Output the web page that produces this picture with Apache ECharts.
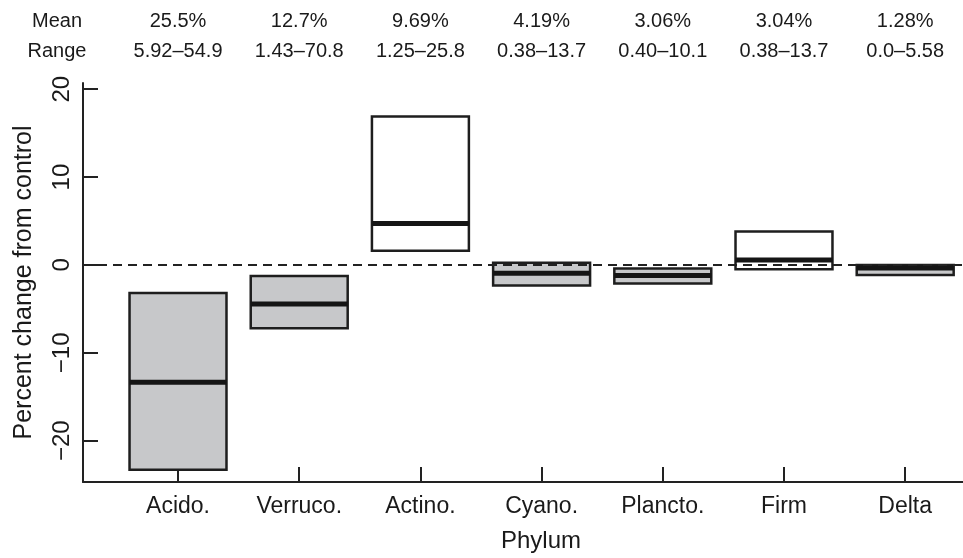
<!DOCTYPE html>
<html>
<head>
<meta charset="utf-8">
<script src="https://cdn.jsdelivr.net/npm/echarts@6/dist/echarts.min.js"></script>
<style>
html,body{margin:0;padding:0;background:#fff;}
#chart{width:963px;height:558px;}
</style>
</head>
<body>
<div id="chart"></div>
<script>
const categories = ['Acido.', 'Verruco.', 'Actino.', 'Cyano.', 'Plancto.', 'Firm', 'Delta'];
const boxLow    = [-23.3, -7.2, 1.6, -2.35, -2.1, -0.5, -1.15];
const boxMedian = [-13.35, -4.45, 4.7, -0.95, -1.2, 0.55, -0.35];
const boxHigh   = [-3.2, -1.25, 16.9, 0.25, -0.4, 3.8, 0.0];
const meanLabels  = ['25.5%', '12.7%', '9.69%', '4.19%', '3.06%', '3.04%', '1.28%'];
const rangeLabels = ['5.92\u201354.9', '1.43\u201370.8', '1.25\u201325.8', '0.38\u201313.7', '0.40\u201310.1', '0.38\u201313.7', '0.0\u20135.58'];
const yTicks = [-20, -10, 0, 10, 20];

const FONT = "'Liberation Sans', Arial, Helvetica, sans-serif";
const positions = categories.map((c, i) => i + 1);
const X_MIN = 0.216, X_MAX = 7.477;

const chart = echarts.init(document.getElementById('chart'), null, {renderer: 'canvas'});

function topAxis(labels, offset) {
  return {
    type: 'value', position: 'top', min: X_MIN, max: X_MAX, offset: offset,
    axisLine: {show: false}, axisTick: {show: false}, splitLine: {show: false},
    axisLabel: {
      customValues: positions, margin: 0, color: '#1a1a1a', fontFamily: FONT, fontSize: 20,
      formatter: v => labels[Math.round(v) - 1]
    }
  };
}

const option = {
  backgroundColor: '#ffffff',
  animation: false,
  grid: {left: 83, right: 0, top: 83, bottom: 76, outerBoundsMode: 'none'},
  xAxis: [
    {
      type: 'value', min: X_MIN, max: X_MAX, position: 'bottom',
      axisLine: {show: true, onZero: false, lineStyle: {color: '#222', width: 2}},
      axisTick: {show: true, inside: true, length: 15, customValues: positions, lineStyle: {color: '#222', width: 2}},
      splitLine: {show: false},
      axisLabel: {
        customValues: positions, margin: 13, color: '#1a1a1a', fontFamily: FONT, fontSize: 23,
        formatter: v => categories[Math.round(v) - 1]
      }
    },
    topAxis(meanLabels, 52),
    topAxis(rangeLabels, 22)
  ],
  yAxis: {
    type: 'value', min: -24.7, max: 20.7,
    name: 'Percent change from control', nameLocation: 'middle', nameGap: 46, nameRotate: 90,
    nameTextStyle: {color: '#1a1a1a', fontFamily: FONT, fontSize: 25},
    axisLine: {show: true, onZero: false, lineStyle: {color: '#222', width: 2}},
    axisTick: {show: true, inside: true, length: 15, customValues: yTicks, lineStyle: {color: '#222', width: 2}},
    splitLine: {show: false},
    axisLabel: {
      customValues: yTicks, rotate: 90, margin: 9, color: '#1a1a1a', fontFamily: FONT, fontSize: 24,
      formatter: v => (v < 0 ? '\u2212' + Math.abs(v) : String(v))
    }
  },
  graphic: [
    {type: 'text', x: 57, y: 21, style: {text: 'Mean', fill: '#1a1a1a', font: '20px ' + FONT, align: 'center', verticalAlign: 'middle'}},
    {type: 'text', x: 57, y: 51, style: {text: 'Range', fill: '#1a1a1a', font: '20px ' + FONT, align: 'center', verticalAlign: 'middle'}},
    {type: 'text', x: 541, y: 541, style: {text: 'Phylum', fill: '#1a1a1a', font: '24px ' + FONT, align: 'center', verticalAlign: 'middle'}}
  ],
  series: [
    {
      type: 'custom', xAxisIndex: 0, yAxisIndex: 0, z: 2,
      data: categories.map((c, i) => [positions[i], boxLow[i], boxMedian[i], boxHigh[i]]),
      encode: {x: 0, y: [1, 2, 3]},
      renderItem: function (params, api) {
        const x = api.value(0), lo = api.value(1), med = api.value(2), hi = api.value(3);
        const half = 0.4;
        const tl = api.coord([x - half, hi]);
        const br = api.coord([x + half, lo]);
        const m1 = api.coord([x - half, med]);
        const m2 = api.coord([x + half, med]);
        const fill = med > 0 ? '#ffffff' : '#c7c8ca';
        return {
          type: 'group',
          children: [
            {type: 'rect', shape: {x: tl[0], y: tl[1], width: br[0] - tl[0], height: br[1] - tl[1]},
             style: {fill: fill, stroke: '#1e1e1e', lineWidth: 2.5}},
            {type: 'line', shape: {x1: m1[0], y1: m1[1], x2: m2[0], y2: m2[1]},
             style: {stroke: '#151515', lineWidth: 5}}
          ]
        };
      }
    },
    {
      type: 'line', xAxisIndex: 0, yAxisIndex: 0, z: 10, data: [], silent: true,
      markLine: {
        silent: true, symbol: 'none', label: {show: false},
        lineStyle: {color: '#222', width: 2, type: [9, 6]},
        data: [{yAxis: 0}]
      }
    }
  ]
};
chart.setOption(option);
</script>
</body>
</html>
